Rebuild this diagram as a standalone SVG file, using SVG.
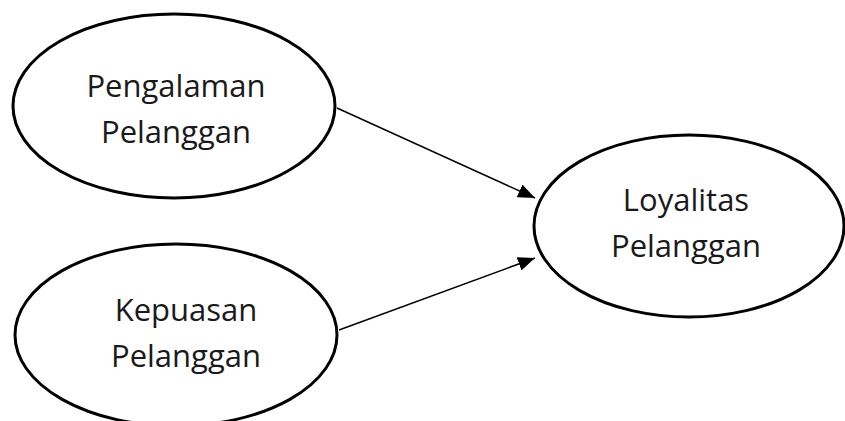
<svg xmlns="http://www.w3.org/2000/svg" width="845" height="421" viewBox="0 0 845 421">
<style>
.node ellipse{fill:#fff;stroke:#000;stroke-width:3}
.node text{font-family:"Open Sans","Noto Sans",sans-serif;font-size:31px;fill:#1a1a1a;text-anchor:middle}
.edge{stroke:#000;stroke-width:1.5;fill:none;marker-end:url(#ah)}
</style>
<defs>
<marker id="ah" markerUnits="userSpaceOnUse" markerWidth="18" markerHeight="14" refX="17" refY="7" orient="auto">
<path d="M0,0 L17,7 L0,14 Z" fill="#000"/>
</marker>
</defs>
<rect width="845" height="421" fill="#fff"/>
<g id="connectors">
<line class="edge" x1="337" y1="108" x2="535" y2="198"/>
<line class="edge" x1="339" y1="330" x2="535" y2="258"/>
</g>
<g id="pengalaman" class="node">
<ellipse cx="174" cy="106" rx="161" ry="92"/>
<text x="176" y="97">Pengalaman</text>
<text x="176" y="143">Pelanggan</text>
</g>
<g id="kepuasan" class="node">
<ellipse cx="176" cy="335" rx="161" ry="91"/>
<text x="186" y="321">Kepuasan</text>
<text x="186" y="367">Pelanggan</text>
</g>
<g id="loyalitas" class="node">
<ellipse cx="689" cy="226" rx="155" ry="91"/>
<text x="686" y="211">Loyalitas</text>
<text x="686" y="257">Pelanggan</text>
</g>
</svg>
